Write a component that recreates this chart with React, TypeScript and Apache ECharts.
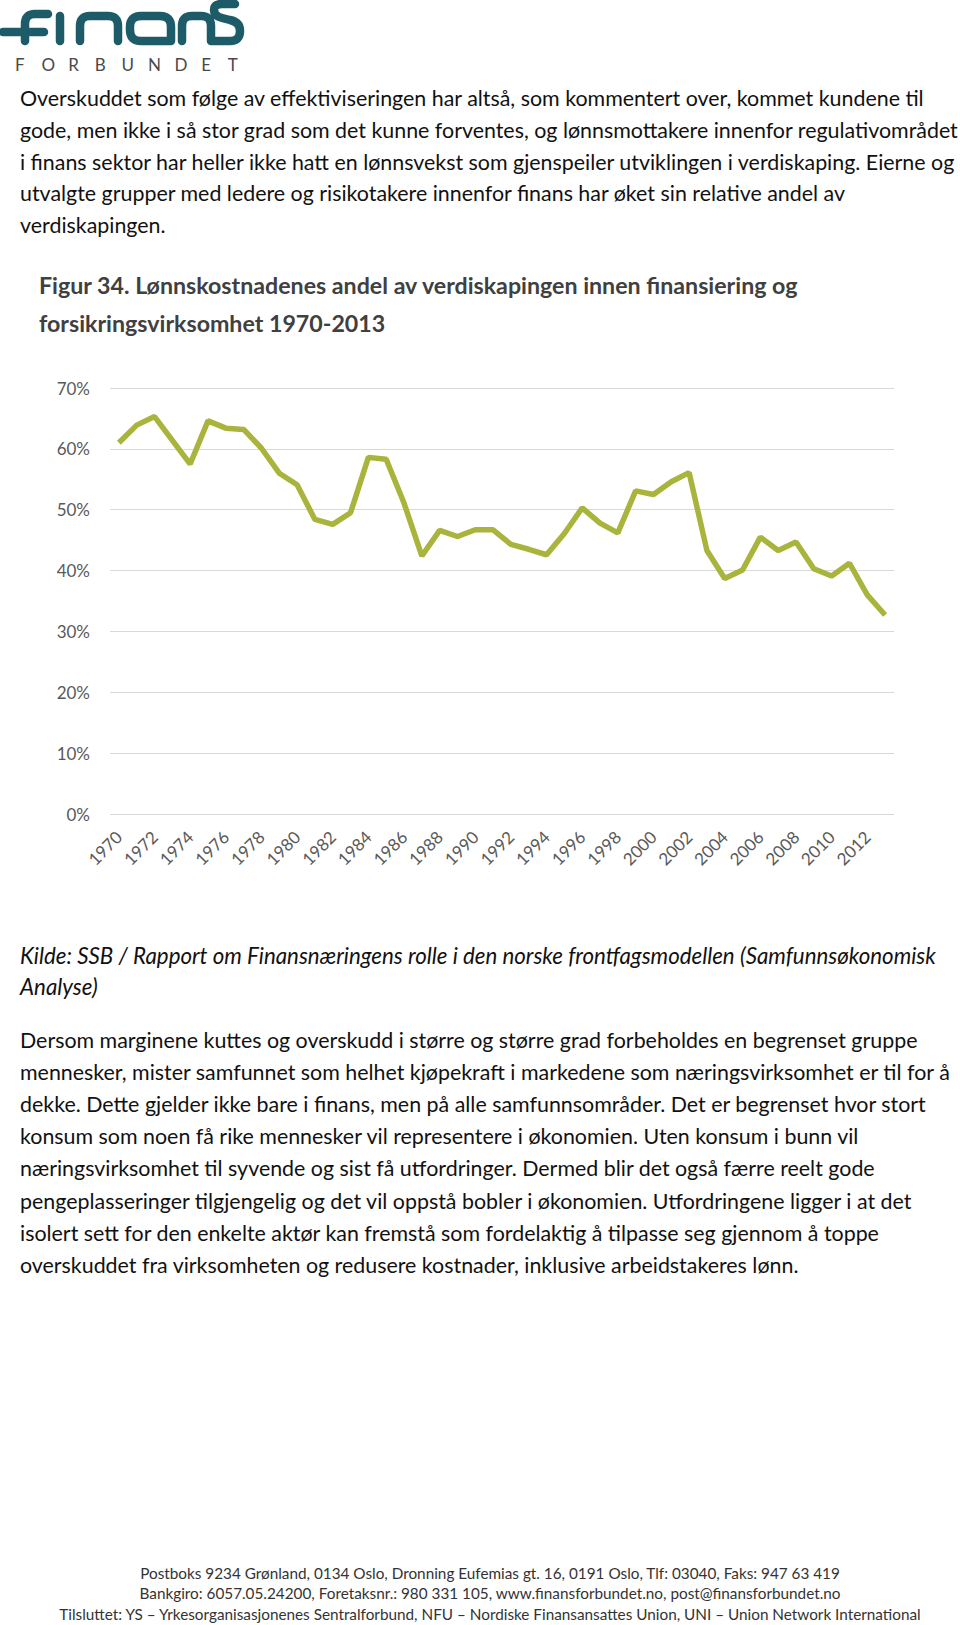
import React, { useEffect, useRef } from "react";
import * as echarts from "echarts";

const years = [
  "1970", "1971", "1972", "1973", "1974", "1975", "1976", "1977", "1978", "1979",
  "1980", "1981", "1982", "1983", "1984", "1985", "1986", "1987", "1988", "1989",
  "1990", "1991", "1992", "1993", "1994", "1995", "1996", "1997", "1998", "1999",
  "2000", "2001", "2002", "2003", "2004", "2005", "2006", "2007", "2008", "2009",
  "2010", "2011", "2012", "2013",
];

const wageShare = [
  61.0, 63.9, 65.3, 61.4, 57.5, 64.6, 63.4, 63.2, 60.1, 56.0,
  54.1, 48.4, 47.6, 49.5, 58.6, 58.3, 51.1, 42.4, 46.6, 45.6,
  46.7, 46.7, 44.3, 43.5, 42.6, 46.1, 50.3, 47.8, 46.2, 53.1,
  52.5, 54.6, 56.1, 43.3, 38.7, 40.1, 45.5, 43.3, 44.7, 40.3,
  39.1, 41.2, 36.0, 32.7,
];

const yTicks = { min: 0, max: 70, interval: 10 };

const para1 = [
  "Overskuddet som følge av effektiviseringen har altså, som kommentert over, kommet kundene til",
  "gode, men ikke i så stor grad som det kunne forventes, og lønnsmottakere innenfor regulativområdet",
  "i finans sektor har heller ikke hatt en lønnsvekst som gjenspeiler utviklingen i verdiskaping. Eierne og",
  "utvalgte grupper med ledere og risikotakere innenfor finans har øket sin relative andel av",
  "verdiskapingen.",
];

const titleLines = [
  "Figur 34. Lønnskostnadenes andel av verdiskapingen innen finansiering og",
  "forsikringsvirksomhet 1970-2013",
];

const sourceLines = [
  "Kilde: SSB / Rapport om Finansnæringens rolle i den norske frontfagsmodellen (Samfunnsøkonomisk",
  "Analyse)",
];

const para2 = [
  "Dersom marginene kuttes og overskudd i større og større grad forbeholdes en begrenset gruppe",
  "mennesker, mister samfunnet som helhet kjøpekraft i markedene som næringsvirksomhet er til for å",
  "dekke. Dette gjelder ikke bare i finans, men på alle samfunnsområder. Det er begrenset hvor stort",
  "konsum som noen få rike mennesker vil representere i økonomien. Uten konsum i bunn vil",
  "næringsvirksomhet til syvende og sist få utfordringer. Dermed blir det også færre reelt gode",
  "pengeplasseringer tilgjengelig og det vil oppstå bobler i økonomien. Utfordringene ligger i at det",
  "isolert sett for den enkelte aktør kan fremstå som fordelaktig å tilpasse seg gjennom å toppe",
  "overskuddet fra virksomheten og redusere kostnader, inklusive arbeidstakeres lønn.",
];

const footerLines = [
  "Postboks 9234 Grønland, 0134 Oslo, Dronning Eufemias gt. 16, 0191 Oslo, Tlf: 03040, Faks: 947 63 419",
  "Bankgiro: 6057.05.24200, Foretaksnr.: 980 331 105, www.finansforbundet.no, post@finansforbundet.no",
  "Tilsluttet: YS – Yrkesorganisasjonenes Sentralforbund, NFU – Nordiske Finansansattes Union, UNI – Union Network International",
];

const logoWord = "FORBUNDET";

const LOGO_D =
  "M3 32 H44 M25 41 V24 Q25 14 35 14 H48 " +
  "M60 41 V16 " +
  "M80 41 V26 Q80 16 90 16 H108 Q118 16 118 26 V41 " +
  "M171 41 H141 Q130 41 130 30 V27 Q130 16 141 16 H160 Q171 16 171 27 V41 " +
  "M182 41 V26 Q182 16 192 16 H201 Q211 16 211 26 V41 " +
  "M211 41 H230 Q240 41 240 31 Q240 22 230 20 L222 18 Q214 16 214 10 Q214 4 222 4 H235";

let registered = false;

export default function App() {
  const ref = useRef<HTMLDivElement>(null);

  useEffect(() => {
    if (!ref.current) return;
    if (!registered) {
      echarts.graphic.registerShape("logo", echarts.graphic.extendPath(LOGO_D, {}));
      registered = true;
    }
    const chart = echarts.init(ref.current, null, { renderer: "svg" });

    const font = "Lato";
    const textLines = (lines: string[], x: number, y0: number, step: number, style: any) =>
      lines.map((t, i) => ({
        type: "text",
        x,
        y: y0 + i * step,
        silent: true,
        style: { text: t, verticalAlign: "middle", ...style },
      }));

    const graphic: any[] = [
      {
        type: "logo",
        x: 0,
        y: 0,
        silent: true,
        style: { fill: "none", stroke: "#1d5b69", lineWidth: 8.5, lineCap: "round", lineJoin: "round" },
      },
      ...logoWord.split("").map((ch, i) => ({
        type: "text",
        x: 15 + i * 26.6,
        y: 64,
        silent: true,
        style: { text: ch, verticalAlign: "middle", fontFamily: font, fontSize: 17, fill: "#4a4a4a" },
      })),
      ...textLines(para1, 20, 98, 31.8, { fontFamily: font, fontSize: 21.4, fill: "#111111" }),
      ...textLines(titleLines, 39, 285, 37.5, {
        fontFamily: font,
        fontSize: 23.2,
        fontWeight: "bold",
        fill: "#404040",
      }),
      ...textLines(sourceLines, 20, 955, 31.8, {
        fontFamily: font,
        fontSize: 22.3,
        fontStyle: "italic",
        fill: "#111111",
      }),
      ...textLines(para2, 20, 1040, 32.1, { fontFamily: font, fontSize: 21.4, fill: "#111111" }),
      ...textLines(footerLines, 490, 1573, 20.3, {
        fontFamily: font,
        fontSize: 15.3,
        fill: "#333333",
        align: "center",
      }),
    ];

    chart.setOption({
      animation: false,
      backgroundColor: "#ffffff",
      grid: { left: 110, right: 66, top: 388, bottom: 811, containLabel: false },
      xAxis: {
        type: "category",
        data: years,
        boundaryGap: true,
        axisLine: { show: false },
        axisTick: { show: false },
        axisLabel: {
          interval: 1,
          rotate: 45,
          margin: 20,
          fontFamily: font,
          fontSize: 17,
          color: "#595959",
        },
      },
      yAxis: {
        type: "value",
        min: yTicks.min,
        max: yTicks.max,
        interval: yTicks.interval,
        axisLine: { show: false },
        axisTick: { show: false },
        axisLabel: {
          formatter: "{value}%",
          margin: 20,
          fontFamily: font,
          fontSize: 17,
          color: "#595959",
        },
        splitLine: { lineStyle: { color: "#d9d9d9", width: 1 } },
      },
      series: [
        {
          type: "line",
          data: wageShare,
          symbol: "none",
          lineStyle: { color: "#a9b43c", width: 5.5 },
        },
      ],
      graphic,
    });

    return () => chart.dispose();
  }, []);

  return (
    <div
      ref={ref}
      style={{ position: "absolute", left: 0, top: 0, width: 960, height: 1625, background: "#fff" }}
    />
  );
}
